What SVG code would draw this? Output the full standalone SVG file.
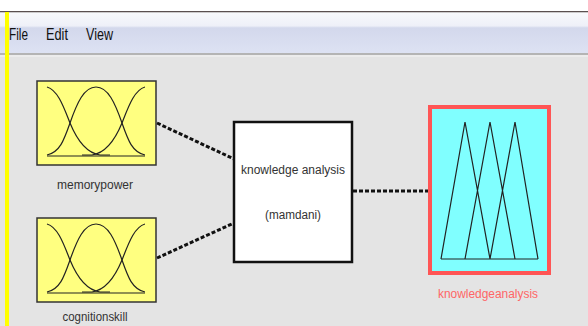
<svg xmlns="http://www.w3.org/2000/svg" width="588" height="326" viewBox="0 0 588 326">
  <defs>
    <linearGradient id="menuGrad" x1="0" y1="0" x2="0" y2="1">
      <stop offset="0" stop-color="#f8f9fc"/>
      <stop offset="0.33" stop-color="#eef0f8"/>
      <stop offset="0.38" stop-color="#d3d8ec"/>
      <stop offset="1" stop-color="#dde2f3"/>
    </linearGradient>
    <style>
      .menu { font-family: "Liberation Sans", Arial, sans-serif; font-size: 17px; fill: #111; }
      .lbl { font-family: "Liberation Sans", Arial, sans-serif; font-size: 12.5px; fill: #333; text-anchor: middle; }
      .inbox { fill: #ffff80; stroke: #333; stroke-width: 1.5; }
      .mf { fill: none; stroke: #222; stroke-width: 1.2; }
      .conn { stroke: #111; stroke-width: 3; stroke-dasharray: 4 2; fill: none; }
    </style>
  </defs>

  <!-- window background -->
  <rect x="0" y="0" width="588" height="326" fill="#e4e4e4"/>
  <rect x="0" y="0" width="588" height="11" fill="#ffffff"/>
  <rect x="0" y="11" width="588" height="1.5" fill="#5a5050"/>
  <rect x="0" y="12.5" width="588" height="40.5" fill="url(#menuGrad)"/>
  <rect x="0" y="53" width="588" height="2" fill="#b4b4b4"/>
  <rect x="0" y="55" width="588" height="2" fill="#ececec"/>
  <rect x="5" y="12" width="4" height="314" fill="#ffff00"/>

  <!-- menu bar -->
  <g id="menu">
    <text class="menu" x="9" y="40" textLength="19" lengthAdjust="spacingAndGlyphs">File</text>
    <text class="menu" x="46" y="40" textLength="22" lengthAdjust="spacingAndGlyphs">Edit</text>
    <text class="menu" x="86" y="40" textLength="27" lengthAdjust="spacingAndGlyphs">View</text>
  </g>

  <!-- connectors -->
  <g id="connectors">
    <line class="conn" x1="157" y1="123" x2="234" y2="159"/>
    <line class="conn" x1="157" y1="258" x2="234" y2="223"/>
    <line class="conn" x1="353" y1="191" x2="429" y2="191"/>
  </g>

  <!-- input: memorypower -->
  <g id="memorypower">
    <rect class="inbox" x="37" y="81" width="119" height="84"/>
    <path class="mf" d="M47,87 C58,90 64,108 70,123 C77,140 86,153 100,155 L110,155"/>
    <path class="mf" d="M47,155 C60,152 64,140 70,123 C77,103 84,87 96,87 C108,87 115,103 122,123 C128,140 132,152 145,155"/>
    <path class="mf" d="M145,87 C134,90 128,108 122,123 C115,140 106,153 92,155 L82,155"/>
    <line class="mf" x1="47" y1="156" x2="145" y2="156"/>
    <text class="lbl" x="95" y="189" textLength="76" lengthAdjust="spacingAndGlyphs">memorypower</text>
  </g>

  <!-- input: cognitionskill -->
  <g id="cognitionskill">
    <rect class="inbox" x="37" y="218" width="119" height="84"/>
    <path class="mf" d="M47,224 C58,227 64,245 70,260 C77,277 86,290 100,292 L110,292"/>
    <path class="mf" d="M47,292 C60,289 64,277 70,260 C77,240 84,224 96,224 C108,224 115,240 122,260 C128,277 132,289 145,292"/>
    <path class="mf" d="M145,224 C134,227 128,245 122,260 C115,277 106,290 92,292 L82,292"/>
    <line class="mf" x1="47" y1="293" x2="145" y2="293"/>
    <text class="lbl" x="95" y="321" font-size="12" textLength="65" lengthAdjust="spacingAndGlyphs">cognitionskill</text>
  </g>

  <!-- rule block -->
  <g id="rules">
    <rect x="234" y="122" width="118" height="140" fill="#ffffff" stroke="#111" stroke-width="2.5"/>
    <text class="lbl" x="293" y="174" textLength="104" lengthAdjust="spacingAndGlyphs">knowledge analysis</text>
    <text class="lbl" x="293" y="219" textLength="56" lengthAdjust="spacingAndGlyphs">(mamdani)</text>
  </g>

  <!-- output: knowledgeanalysis -->
  <g id="knowledgeanalysis">
    <rect x="430" y="107" width="119" height="166" fill="#80ffff" stroke="#ff5555" stroke-width="4"/>
    <path class="mf" d="M441,259 L465,122 L490,259 M465,259 L490,122 L515,259 M490,259 L515,122 L538,259"/>
    <line class="mf" x1="441" y1="259" x2="538" y2="259" stroke-width="1.3"/>
    <text class="lbl" x="488" y="298" textLength="100" lengthAdjust="spacingAndGlyphs" style="fill:#ff6666">knowledgeanalysis</text>
  </g>
</svg>
